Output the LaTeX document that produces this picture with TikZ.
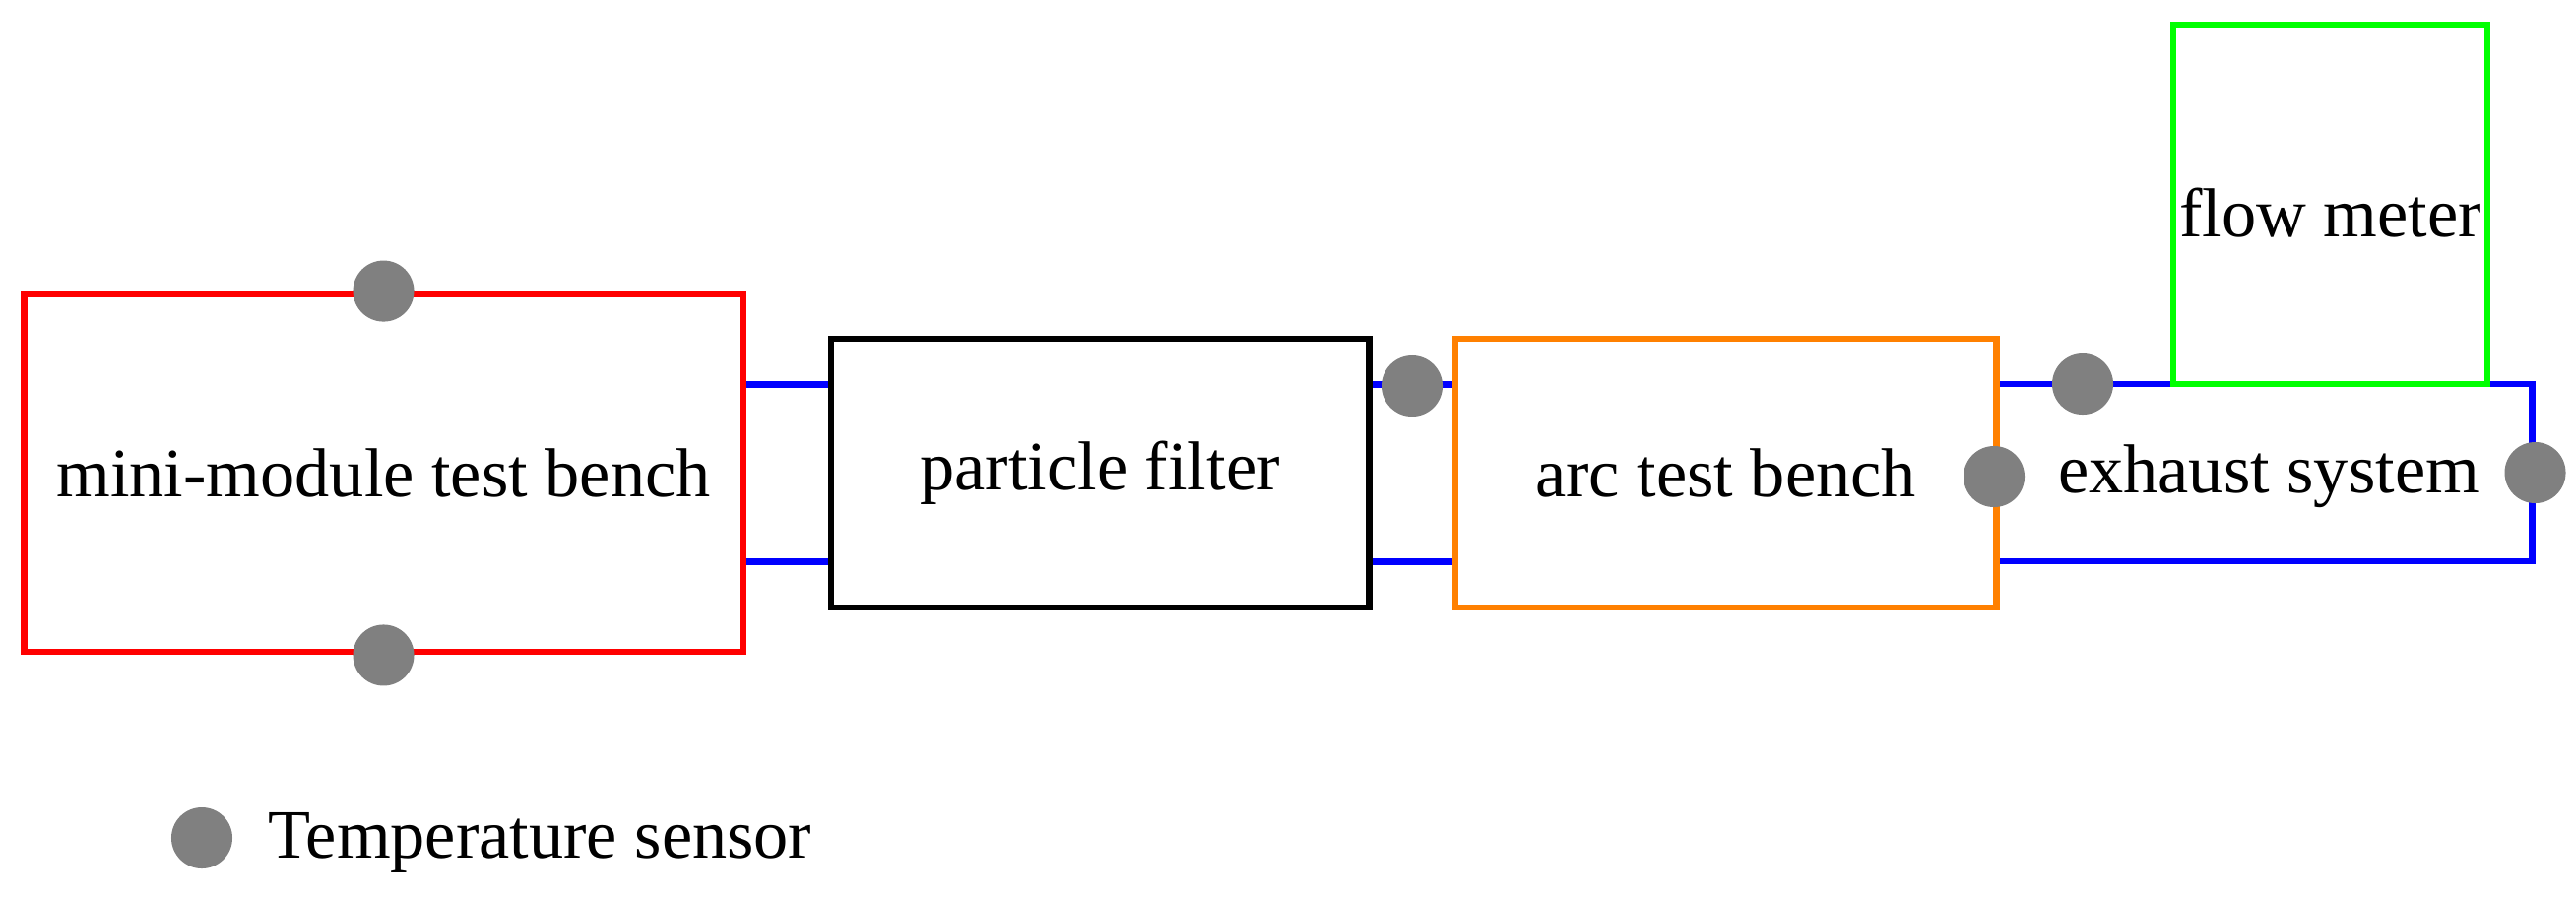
\documentclass[tikz,border=0pt]{standalone}
\usepackage{fontspec}
\setmainfont{Liberation Serif}
\definecolor{pipeblue}{RGB}{0,0,255}
\definecolor{boxred}{RGB}{255,0,0}
\definecolor{boxorange}{RGB}{255,128,0}
\definecolor{boxgreen}{RGB}{0,255,0}
\definecolor{sensorgray}{RGB}{128,128,128}
\tikzset{
  pipe/.style={draw=pipeblue, line width=1.9pt},
  unitbox/.style={draw, line width=1.9pt, fill=white, rectangle, inner sep=0pt,
    font=\fontsize{20}{23}\selectfont},
  sensor/.style={circle, fill=sensorgray, inner sep=0pt, minimum size=0.62cm},
}
\begin{document}
\begin{tikzpicture}[x=0.01cm, y=-0.01cm]
\useasboundingbox (0,0) rectangle (2616,911);
% exhaust system (blue) drawn first
\node[unitbox, draw=pipeblue, minimum width=5.44cm, minimum height=1.80cm, text depth=0pt] (ex) at (2299,480) {};
\node[font=\fontsize{20}{23}\selectfont, inner sep=0pt] (extext) at (2304,484) {exhaust system};
% boxes
\node[unitbox, draw=boxred, minimum width=7.29cm, minimum height=3.63cm] (mm) at (389.5,480.5) {mini-module test bench};
\node[unitbox, draw=black, minimum width=5.46cm, minimum height=2.73cm] (pf) at (1117,480.5) {particle filter};
\node[unitbox, draw=boxorange, minimum width=5.49cm, minimum height=2.73cm] (arc) at (1752.5,480.5) {arc test bench};
\node[unitbox, draw=boxgreen, minimum width=3.19cm, minimum height=3.65cm] (fm) at (2366.5,207.5) {};
\node[font=\fontsize{20}{23}\selectfont, inner sep=0pt] (fmtext) at (2366.5,216) {flow meter};
% pipes
\draw[pipe] ([yshift=0.9cm]mm.east) -- ([yshift=0.9cm]pf.west);
\draw[pipe] ([yshift=-0.9cm]mm.east) -- ([yshift=-0.9cm]pf.west);
\draw[pipe] ([yshift=0.9cm]pf.east) -- ([yshift=0.9cm]arc.west);
\draw[pipe] ([yshift=-0.9cm]pf.east) -- ([yshift=-0.9cm]arc.west);
% sensors
\node[sensor] (s1) at (mm.north) {};
\node[sensor] (s2) at (mm.south) {};
\node[sensor] (s3) at (1434,392) {};
\node[sensor] (s4) at (2115,390) {};
\node[sensor] (s5) at (2025,484) {};
\node[sensor] (s6) at (ex.east) {};
% legend
\node[sensor] (leg) at (205,851) {};
\node[anchor=west, inner sep=0pt, font=\fontsize{20}{23}\selectfont] (legtext) at (272,856) {Temperature sensor};
\end{tikzpicture}
\end{document}
